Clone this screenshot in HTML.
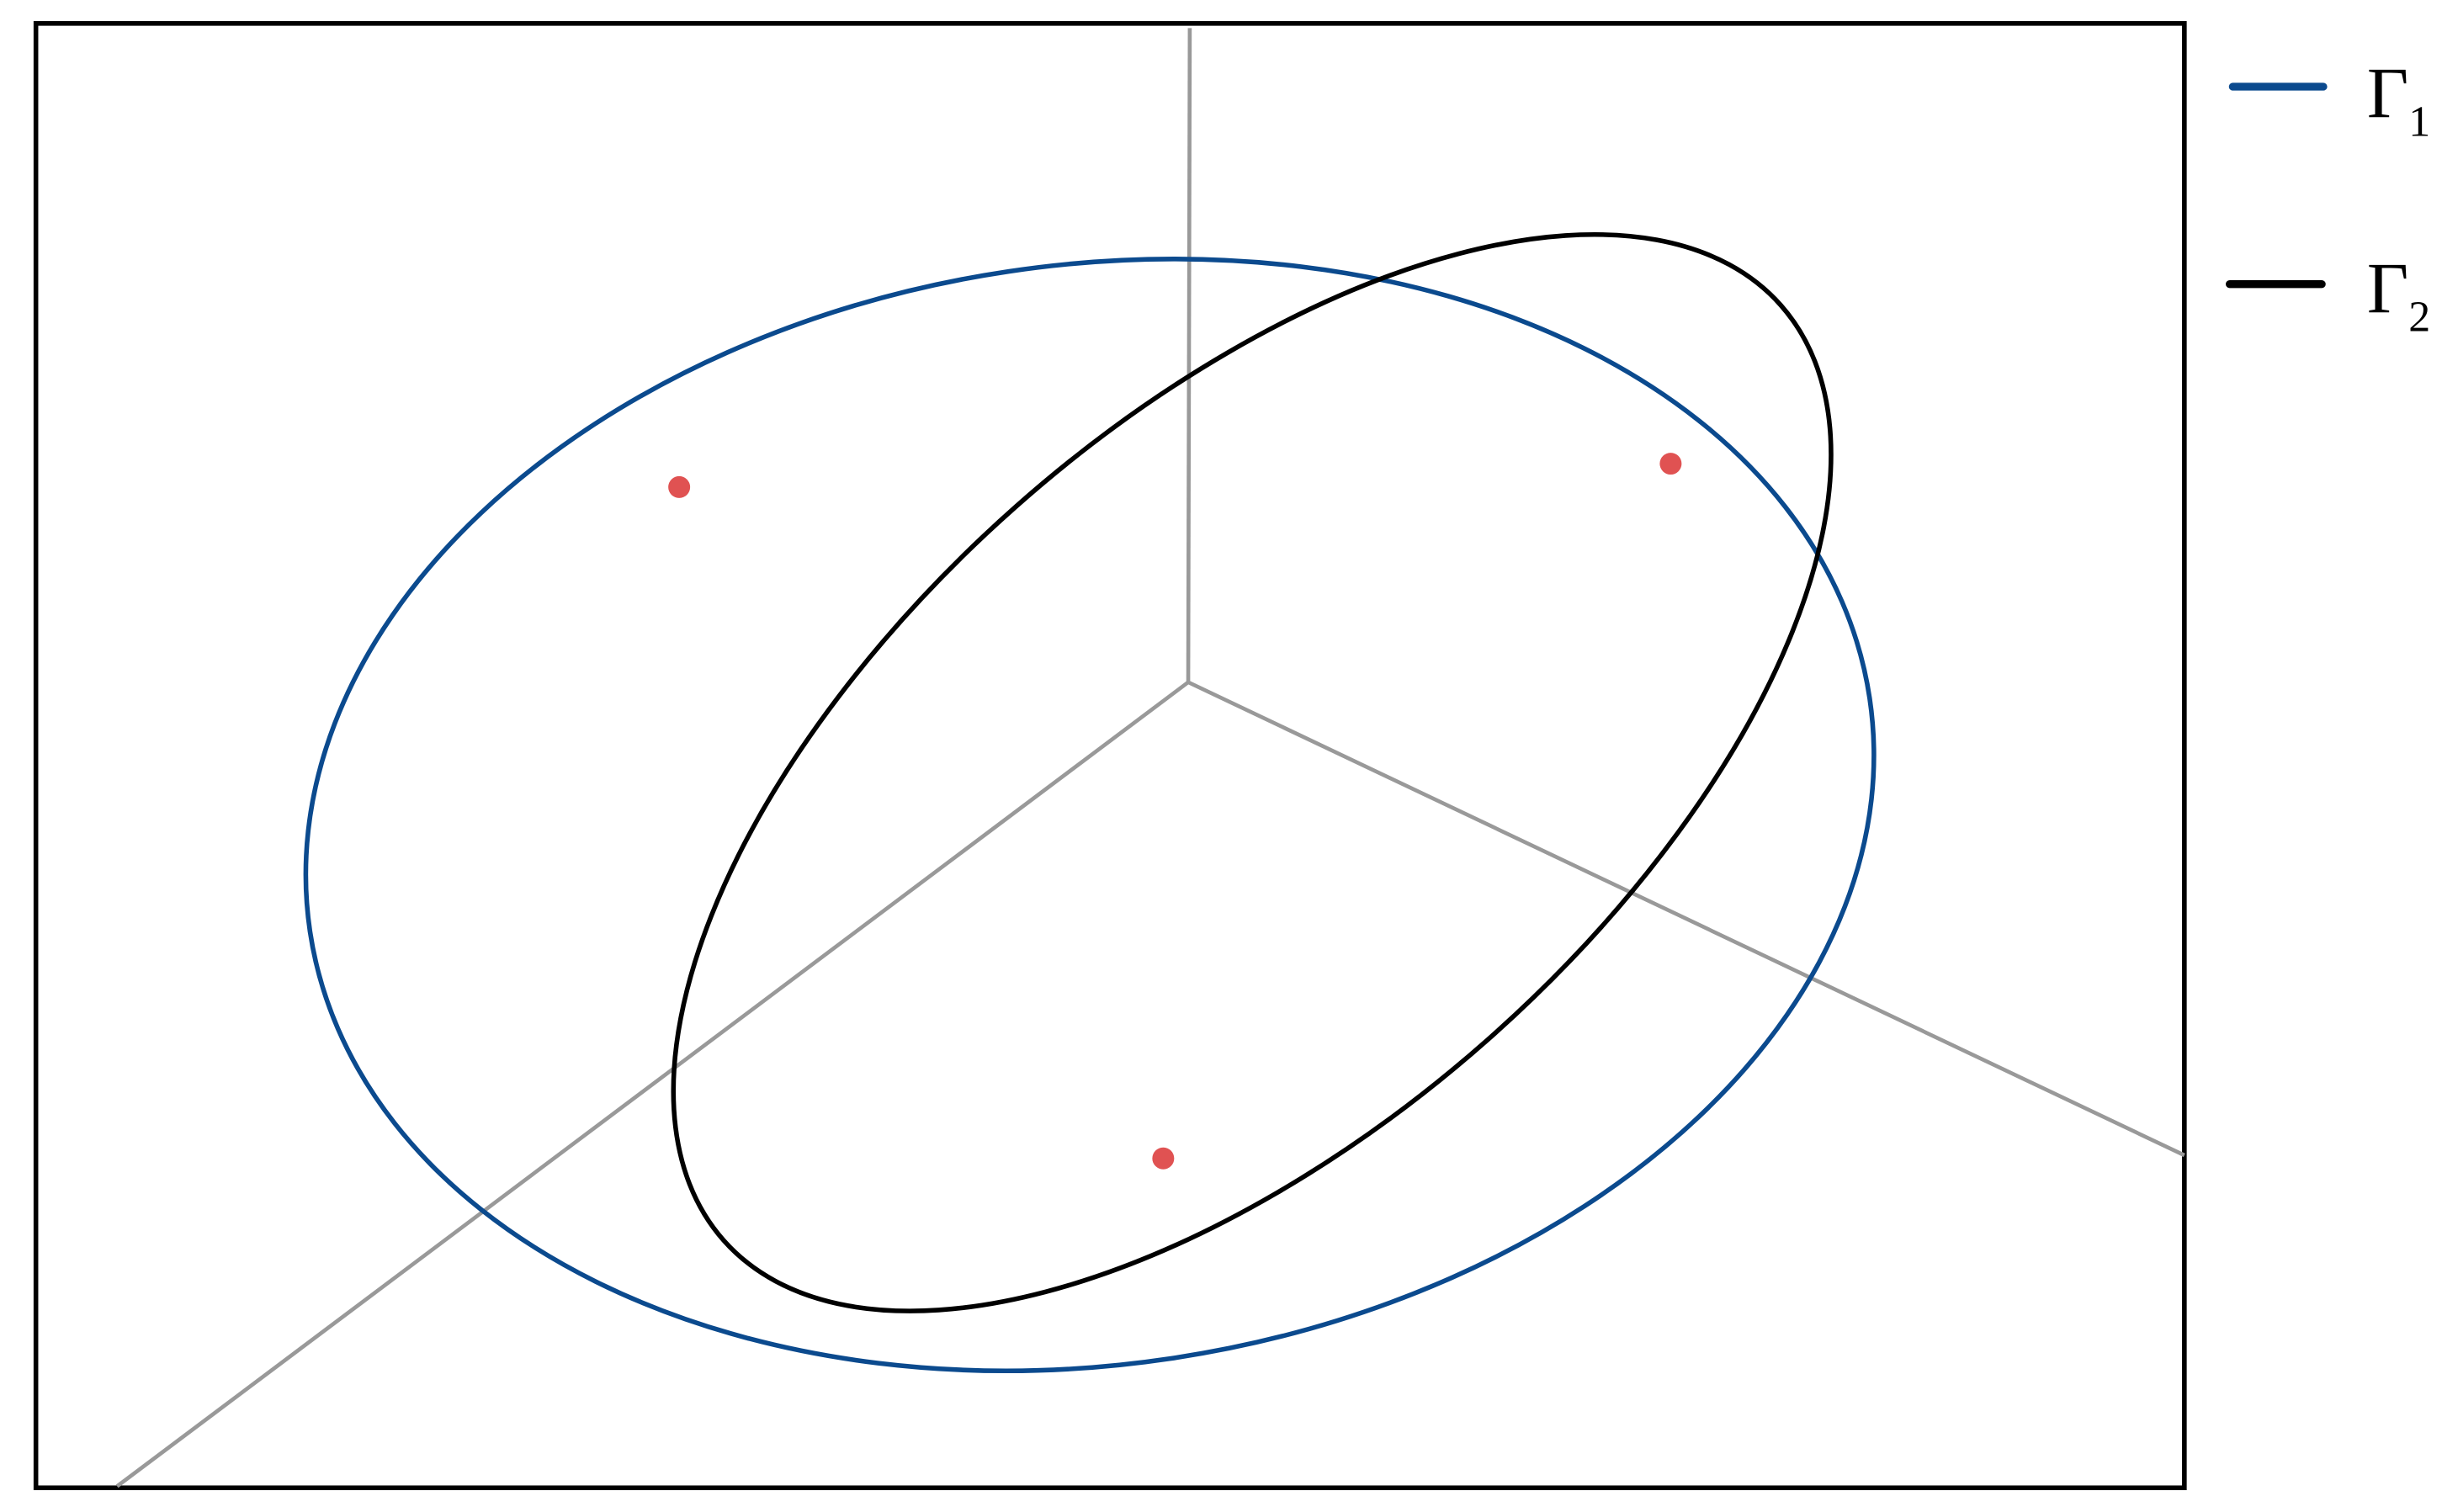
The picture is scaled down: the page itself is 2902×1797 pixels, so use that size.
<!DOCTYPE html>
<html><head><meta charset="utf-8"><style>
html,body{margin:0;padding:0;background:#fff;}
svg{display:block;}
</style></head><body>
<svg id="chart" width="2902" height="1797" viewBox="0 0 1564 968.5" preserveAspectRatio="none" xmlns="http://www.w3.org/2000/svg">
<rect x="23" y="15" width="1376" height="938" fill="none" stroke="#000" stroke-width="3"/>
<g id="axes"></g>
<g id="curves"></g>
<g id="pts"></g>
<g>
<line x1="1430" y1="55.5" x2="1488" y2="55.5" stroke="#0b4a8e" stroke-width="5" stroke-linecap="round"/>
<text x="1516" y="75" font-family="Liberation Serif, serif" font-size="46">Γ<tspan font-size="28" dy="12">1</tspan></text>
<line x1="1428" y1="182" x2="1487" y2="182" stroke="#000" stroke-width="5" stroke-linecap="round"/>
<text x="1516" y="200" font-family="Liberation Serif, serif" font-size="46">Γ<tspan font-size="28" dy="12">2</tspan></text>
</g>
</svg>
<script>
const NS="http://www.w3.org/2000/svg";
// axis origin and endpoints
const axisOrigin=[761,437];
const axisEnds=[[762,18],[75,952],[1399,740]];
// ellipses: center x, center y, semi-major, semi-minor, rotation deg
const ellipseNames=["gamma1","gamma2"];
const ellipseCx=[698,802];
const ellipseCy=[522,495];
const ellipseA=[505,452];
const ellipseB=[352,228];
const ellipseRot=[-8.5,-41.5];
const ellipseColors=["#0b4a8e","#000"];
// points
const pointX=[435,1070,745];
const pointY=[312,297,742];

const ax=document.getElementById('axes');
axisEnds.forEach((e,i)=>{
 const l=document.createElementNS(NS,'line');
 
 
 l.setAttribute('x1',axisOrigin[0]);l.setAttribute('y1',axisOrigin[1]);
 l.setAttribute('x2',e[0]);l.setAttribute('y2',e[1]);
 l.setAttribute('stroke','#999');l.setAttribute('stroke-width','2.5');
 ax.appendChild(l);
});
const cv=document.getElementById('curves');
ellipseNames.forEach((n,i)=>{
 const el=document.createElementNS(NS,'ellipse');
 
 
 el.setAttribute('cx',0);el.setAttribute('cy',0);
 el.setAttribute('rx',ellipseA[i]);el.setAttribute('ry',ellipseB[i]);
 el.setAttribute('transform','translate('+ellipseCx[i]+','+ellipseCy[i]+') rotate('+ellipseRot[i]+')');
 el.setAttribute('fill','none');el.setAttribute('stroke',ellipseColors[i]);el.setAttribute('stroke-width','3');
 cv.appendChild(el);
});
const pg=document.getElementById('pts');
pointX.forEach((x,i)=>{
 const c=document.createElementNS(NS,'circle');
 
 
 c.setAttribute('cx',x);c.setAttribute('cy',pointY[i]);c.setAttribute('r','7');
 c.setAttribute('fill','#e05252');
 pg.appendChild(c);
});
</script>
</body></html>
